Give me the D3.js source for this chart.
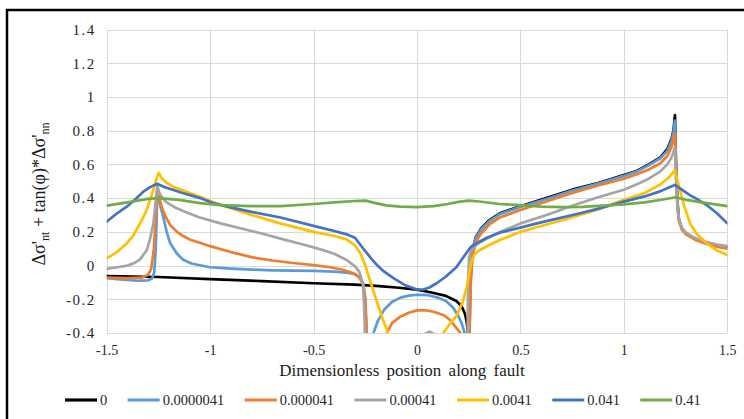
<!DOCTYPE html>
<html>
<head>
<meta charset="utf-8">
<script src="https://cdn.jsdelivr.net/npm/d3@7/dist/d3.min.js"></script>
<style>
  html, body { margin: 0; padding: 0; background: #fff; }
  svg { display: block; }
</style>
</head>
<body>
<svg id="chart" width="744" height="419"></svg>
<script>
const serifFont = '"Liberation Serif"';

// Series names (legend labels) and colours
const seriesNames = ["0", "0.0000041", "0.000041", "0.00041", "0.0041", "0.041", "0.41"];
const seriesColors = ["#000000", "#5B9BD5", "#ED7D31", "#A5A5A5", "#FFC000", "#4472C4", "#70AD47"];

// Tick values
const xTicks = [-1.5, -1, -0.5, 0, 0.5, 1, 1.5];
const yTicks = [-0.4, -0.2, 0, 0.2, 0.4, 0.6, 0.8, 1, 1.2, 1.4];

// Each series: [position along fault, Δσ'nt + tan(φ)·Δσ'nn]
const s0 = [
  [-1.5,-0.062],[-1.25,-0.068],[-1.0,-0.08],[-0.75,-0.092],[-0.5,-0.105],[-0.3,-0.113],
  [-0.2,-0.12],[-0.1,-0.13],[0,-0.143],[0.07,-0.16],[0.14,-0.18],[0.19,-0.21],[0.215,-0.24],
  [0.23,-0.28],[0.24,-0.33],[0.246,-0.4],[0.25,-0.6],[0.253,-0.6],[0.256,-0.2],[0.262,0.0],
  [0.27,0.1],[0.285,0.17],[0.31,0.22],[0.35,0.27],[0.4,0.31],[0.5,0.352],[0.625,0.4],
  [0.75,0.45],[0.875,0.49],[1.0,0.537],[1.06,0.56],[1.12,0.6],[1.175,0.64],[1.21,0.69],
  [1.23,0.75],[1.24,0.8],[1.247,0.893],[1.252,0.6],[1.258,0.4],[1.265,0.28],[1.28,0.22],
  [1.3,0.19],[1.35,0.155],[1.4,0.135],[1.45,0.12],[1.5,0.11]
];
const s1 = [
  [-1.5,-0.075],[-1.45,-0.08],[-1.4,-0.085],[-1.35,-0.09],[-1.3,-0.088],[-1.28,-0.075],
  [-1.27,-0.04],[-1.263,0.1],[-1.258,0.3],[-1.255,0.46],[-1.25,0.42],[-1.24,0.35],
  [-1.227,0.29],[-1.21,0.2],[-1.193,0.132],[-1.16,0.07],[-1.13,0.035],[-1.09,0.012],
  [-1.05,0.002],[-1.0,-0.01],[-0.9,-0.018],[-0.8,-0.024],[-0.7,-0.028],[-0.6,-0.03],
  [-0.5,-0.032],[-0.4,-0.036],[-0.34,-0.042],[-0.3,-0.05],[-0.275,-0.07],[-0.26,-0.11],
  [-0.25,-0.2],[-0.245,-0.35],[-0.24,-0.6],[-0.225,-0.6],[-0.21,-0.4],[-0.19,-0.33],
  [-0.16,-0.264],[-0.12,-0.215],[-0.08,-0.19],[-0.04,-0.178],[0.0,-0.173],[0.05,-0.175],
  [0.1,-0.19],[0.14,-0.21],[0.175,-0.25],[0.2,-0.3],[0.216,-0.343],[0.23,-0.4],[0.24,-0.6],
  [0.252,-0.6],[0.256,-0.2],[0.262,0.0],[0.27,0.1],[0.285,0.165],[0.31,0.215],[0.35,0.265],
  [0.4,0.305],[0.5,0.348],[0.625,0.395],[0.75,0.445],[0.875,0.487],[1.0,0.532],[1.06,0.557],
  [1.12,0.595],[1.175,0.635],[1.21,0.68],[1.23,0.74],[1.24,0.79],[1.247,0.86],[1.252,0.6],
  [1.258,0.4],[1.265,0.28],[1.28,0.22],[1.3,0.19],[1.35,0.155],[1.4,0.135],[1.45,0.122],[1.5,0.113]
];
const s2 = [
  [-1.5,-0.072],[-1.4,-0.075],[-1.33,-0.072],[-1.3,-0.055],[-1.285,-0.02],[-1.272,0.1],
  [-1.262,0.3],[-1.255,0.468],[-1.245,0.4],[-1.235,0.349],[-1.215,0.29],[-1.193,0.24],
  [-1.16,0.2],[-1.13,0.175],[-1.1,0.155],[-1.05,0.135],[-1.0,0.115],[-0.9,0.08],[-0.8,0.05],
  [-0.7,0.03],[-0.6,0.015],[-0.5,0.003],[-0.42,-0.01],[-0.36,-0.025],[-0.31,-0.045],
  [-0.28,-0.07],[-0.26,-0.11],[-0.25,-0.2],[-0.245,-0.35],[-0.24,-0.6],[-0.16,-0.6],
  [-0.146,-0.4],[-0.12,-0.34],[-0.08,-0.303],[-0.04,-0.28],[0.0,-0.266],[0.04,-0.265],
  [0.08,-0.274],[0.13,-0.295],[0.16,-0.323],[0.19,-0.37],[0.21,-0.4],[0.225,-0.6],[0.25,-0.6],
  [0.256,-0.25],[0.262,-0.05],[0.27,0.07],[0.285,0.14],[0.304,0.18],[0.35,0.245],[0.4,0.285],
  [0.5,0.33],[0.625,0.38],[0.75,0.43],[0.875,0.475],[1.0,0.515],[1.06,0.54],[1.12,0.57],
  [1.175,0.605],[1.21,0.65],[1.23,0.7],[1.247,0.784],[1.252,0.55],[1.258,0.38],[1.265,0.27],
  [1.28,0.215],[1.3,0.185],[1.35,0.15],[1.4,0.128],[1.45,0.112],[1.5,0.1]
];
const s3 = [
  [-1.5,-0.02],[-1.45,-0.01],[-1.4,0.0],[-1.37,0.013],[-1.34,0.035],[-1.306,0.092],
  [-1.29,0.16],[-1.274,0.25],[-1.262,0.4],[-1.255,0.47],[-1.245,0.43],[-1.23,0.4],
  [-1.21,0.375],[-1.17,0.345],[-1.113,0.315],[-1.05,0.285],[-0.95,0.25],[-0.85,0.22],
  [-0.75,0.19],[-0.66,0.16],[-0.55,0.125],[-0.45,0.09],[-0.4,0.07],[-0.34,0.033],
  [-0.3,-0.005],[-0.28,-0.035],[-0.27,-0.07],[-0.262,-0.11],[-0.257,-0.2],[-0.253,-0.35],
  [-0.25,-0.6],[0.0,-0.6],[0.03,-0.41],[0.06,-0.392],[0.09,-0.41],[0.12,-0.6],[0.243,-0.6],
  [0.247,-0.1],[0.252,0.05],[0.262,0.09],[0.28,0.115],[0.3,0.135],[0.385,0.19],[0.5,0.25],
  [0.627,0.3],[0.75,0.355],[0.875,0.405],[1.0,0.45],[1.06,0.48],[1.12,0.515],[1.175,0.557],
  [1.21,0.6],[1.23,0.64],[1.247,0.7],[1.252,0.52],[1.258,0.38],[1.265,0.28],[1.28,0.225],
  [1.3,0.195],[1.35,0.16],[1.4,0.14],[1.45,0.125],[1.5,0.115]
];
const s4 = [
  [-1.5,0.043],[-1.45,0.08],[-1.403,0.132],[-1.37,0.18],[-1.339,0.25],[-1.31,0.32],
  [-1.29,0.39],[-1.27,0.47],[-1.255,0.53],[-1.248,0.55],[-1.235,0.52],[-1.21,0.49],
  [-1.178,0.468],[-1.12,0.44],[-1.048,0.408],[-0.985,0.375],[-0.9,0.34],[-0.8,0.3],
  [-0.662,0.25],[-0.5,0.2],[-0.4,0.175],[-0.34,0.155],[-0.3,0.12],[-0.275,0.075],
  [-0.25,0.0],[-0.227,-0.09],[-0.195,-0.21],[-0.165,-0.32],[-0.14,-0.4],[-0.12,-0.47],
  [0.1,-0.47],[0.127,-0.4],[0.15,-0.36],[0.19,-0.3],[0.22,-0.22],[0.241,-0.126],
  [0.255,-0.03],[0.265,0.033],[0.28,0.07],[0.304,0.092],[0.35,0.122],[0.4,0.151],[0.5,0.2],
  [0.6,0.235],[0.707,0.27],[0.868,0.33],[1.0,0.39],[1.1,0.43],[1.175,0.48],[1.22,0.525],
  [1.247,0.567],[1.26,0.5],[1.271,0.448],[1.29,0.36],[1.32,0.25],[1.35,0.19],[1.4,0.132],
  [1.45,0.09],[1.5,0.062]
];
const s5 = [
  [-1.5,0.26],[-1.45,0.31],[-1.403,0.349],[-1.36,0.395],[-1.323,0.438],[-1.29,0.465],
  [-1.256,0.485],[-1.22,0.465],[-1.18,0.45],[-1.145,0.435],[-1.048,0.4],[-0.985,0.37],
  [-0.9,0.345],[-0.8,0.318],[-0.66,0.285],[-0.5,0.235],[-0.4,0.205],[-0.34,0.185],
  [-0.3,0.165],[-0.275,0.125],[-0.25,0.085],[-0.22,0.04],[-0.195,0.005],[-0.16,-0.035],
  [-0.114,-0.075],[-0.06,-0.115],[0.0,-0.142],[0.03,-0.142],[0.06,-0.13],[0.095,-0.105],
  [0.14,-0.065],[0.19,-0.01],[0.23,0.06],[0.26,0.11],[0.3,0.14],[0.337,0.165],[0.4,0.195],
  [0.5,0.225],[0.58,0.25],[0.788,0.31],[0.868,0.335],[1.0,0.379],[1.1,0.41],[1.175,0.44],
  [1.22,0.465],[1.247,0.478],[1.28,0.45],[1.319,0.418],[1.36,0.39],[1.4,0.359],[1.45,0.31],[1.5,0.25]
];
const s6 = [
  [-1.5,0.355],[-1.4,0.375],[-1.3,0.395],[-1.25,0.4],[-1.15,0.39],[-1.05,0.37],[-0.95,0.358],
  [-0.8,0.352],[-0.66,0.353],[-0.5,0.365],[-0.4,0.375],[-0.3,0.383],[-0.25,0.385],[-0.2,0.37],
  [-0.15,0.357],[-0.08,0.35],[0.0,0.347],[0.08,0.352],[0.15,0.365],[0.2,0.378],[0.25,0.385],
  [0.3,0.38],[0.4,0.365],[0.5,0.358],[0.6,0.35],[0.707,0.346],[0.8,0.348],[0.9,0.355],
  [1.0,0.363],[1.1,0.375],[1.175,0.389],[1.25,0.405],[1.3,0.39],[1.4,0.37],[1.5,0.352]
];
const seriesData = [s0, s1, s2, s3, s4, s5, s6];

const svg = d3.select("#chart");

// Outer chart frame
svg.append("rect")
  .attr("x", 7).attr("y", 10).attr("width", 800).attr("height", 500)
  .attr("fill", "none").attr("stroke", "#000").attr("stroke-width", 2.5);

const x = d3.scaleLinear().domain([-1.5, 1.5]).range([106.7, 727.3]);
const y = d3.scaleLinear().domain([-0.4, 1.4]).range([333, 29.5]);

// Gridlines
const grid = svg.append("g").attr("stroke", "#d9d9d9").attr("stroke-width", 1);
grid.selectAll(".hg").data(yTicks).join("line")
  .attr("x1", x(-1.5)).attr("x2", x(1.5))
  .attr("y1", d => Math.round(y(d)) + 0.5).attr("y2", d => Math.round(y(d)) + 0.5);
grid.selectAll(".vg").data(xTicks).join("line")
  .attr("y1", y(-0.4)).attr("y2", y(1.4))
  .attr("x1", d => Math.round(x(d)) + 0.5).attr("x2", d => Math.round(x(d)) + 0.5);

const fmt = d => String(+d.toFixed(1));

// Axes (labels only)
const xAxis = svg.append("g").attr("transform", `translate(0,${y(-0.4)})`)
  .call(d3.axisBottom(x).tickValues(xTicks).tickFormat(fmt).tickSize(0).tickPadding(12));
const yAxis = svg.append("g").attr("transform", `translate(${x(-1.5)},0)`)
  .call(d3.axisLeft(y).tickValues(yTicks).tickFormat(fmt).tickSize(0).tickPadding(11));
[xAxis, yAxis].forEach(g => {
  g.attr("font-family", "Liberation Serif").attr("font-size", 14);
  g.select(".domain").remove();
  g.selectAll("text").style("font-family", serifFont).style("font-size", "14px").attr("fill", "#262626");
});
// Value labels on the vertical axis are set a little wider
yAxis.selectAll("text").style("font-size", "15px").style("letter-spacing", "1.5px");

// Clip lines to the plot area
svg.append("defs").append("clipPath").attr("id", "plotClip")
  .append("rect").attr("x", x(-1.5)).attr("y", y(1.4))
  .attr("width", x(1.5) - x(-1.5)).attr("height", y(-0.4) - y(1.4));

const line = d3.line().x(d => x(d[0])).y(d => y(d[1])).curve(d3.curveLinear);

svg.append("g").attr("clip-path", "url(#plotClip)")
  .selectAll("path").data(seriesData).join("path")
  .attr("d", line)
  .attr("fill", "none")
  .attr("stroke", (d, i) => seriesColors[i])
  .attr("stroke-width", 2.7)
  .attr("stroke-linejoin", "round")
  .attr("stroke-linecap", "round");

// Axis titles
svg.append("text")
  .attr("x", 402).attr("y", 376)
  .attr("text-anchor", "middle")
  .style("font-family", serifFont).style("font-size", "17px")
  .attr("fill", "#1a1a1a")
  .attr("word-spacing", 3)
  .text("Dimensionless position along fault");

const yTitle = svg.append("text")
  .attr("transform", "translate(45,194) rotate(-90)")
  .attr("text-anchor", "middle")
  .attr("fill", "#1a1a1a")
  .style("font-family", serifFont).style("font-size", "18px");
yTitle.append("tspan").text("Δσ'");
yTitle.append("tspan").style("font-size", "12px").attr("dy", 4).text("nt");
yTitle.append("tspan").attr("dy", -4).text(" + tan(φ)*Δσ'");
yTitle.append("tspan").style("font-size", "12px").attr("dy", 4).text("nn");

// Legend
const legend = svg.append("g");
let lx = 65;
seriesNames.forEach((name, i) => {
  legend.append("line")
    .attr("x1", lx).attr("x2", lx + 32).attr("y1", 400).attr("y2", 400)
    .attr("stroke", seriesColors[i]).attr("stroke-width", 3.2);
  const t = legend.append("text")
    .attr("x", lx + 35).attr("y", 405)
    .attr("fill", "#262626")
    .style("font-family", serifFont).style("font-size", "14.5px")
    .text(name);
  lx += 35 + t.node().getComputedTextLength() + 20.4;
});
</script>
</body>
</html>
